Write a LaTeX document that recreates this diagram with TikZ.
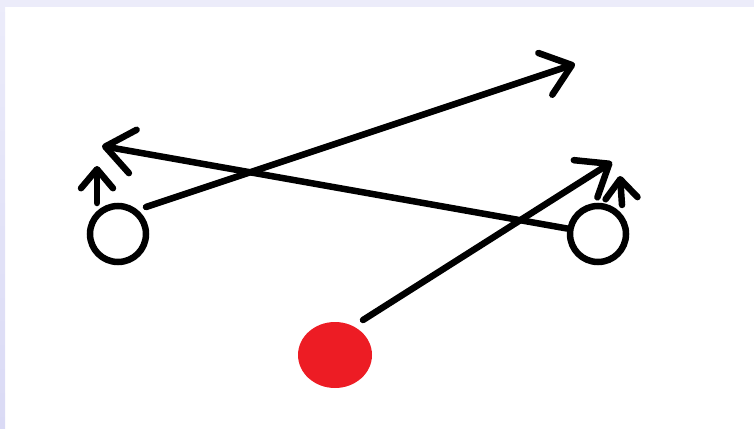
\documentclass[tikz,border=0pt]{standalone}
\usepackage{tikz}
\usepackage{xcolor}
\usetikzlibrary{arrows.meta,shapes.geometric}
\definecolor{paintRed}{RGB}{237,28,36}
\definecolor{frameTop}{RGB}{236,236,250}
\definecolor{frameBot}{RGB}{218,218,245}

\begin{document}
\begin{tikzpicture}[
    x=1pt, y=-1pt,
    ring/.style={circle, draw=black, line width=6.5pt, minimum size=56pt, inner sep=0pt},
    ball/.style={ellipse, fill=paintRed, minimum width=74pt, minimum height=66pt, inner sep=0pt},
    stroke/.style={-{Straight Barb[length=28pt, width=44pt, line cap=round, line join=round]}, line width=6.5pt, line cap=round, black},
    small/.style={-{Straight Barb[length=19pt, width=32pt, line cap=round, line join=round]}, line width=6.5pt, line cap=round, black}
  ]
    \useasboundingbox (0,0) rectangle (754,428);
    % frame
    \fill[frameTop] (0,0) rectangle (754,7);
    \shade[top color=frameTop, bottom color=frameBot] (0,0) rectangle (5,428);

    \node[ring] (lc) at (118,234) {};
    \node[ring] (rc) at (598,234) {};
    \node[ball] (dot) at (335,355) {};

    \coordinate (lcOut) at (146,207);
    \coordinate (dotOut) at (363,320);
    \coordinate (lcUp) at (97,203);
    \coordinate (rcUp) at (622,205);
    \coordinate (tipA) at (575,64);
    \coordinate (tipB) at (102,146);
    \coordinate (tipC) at (612,162);
    \coordinate (tipL) at (97,166);
    \coordinate (tipR) at (620,176);

    \draw[stroke] (lcOut) -- (tipA);
    \draw[stroke] (rc) -- (tipB);
    \draw[stroke] (dotOut) -- (tipC);
    \draw[small] (lcUp) -- (tipL);
    \draw[small] (rcUp) -- (tipR);
\end{tikzpicture}
\end{document}
